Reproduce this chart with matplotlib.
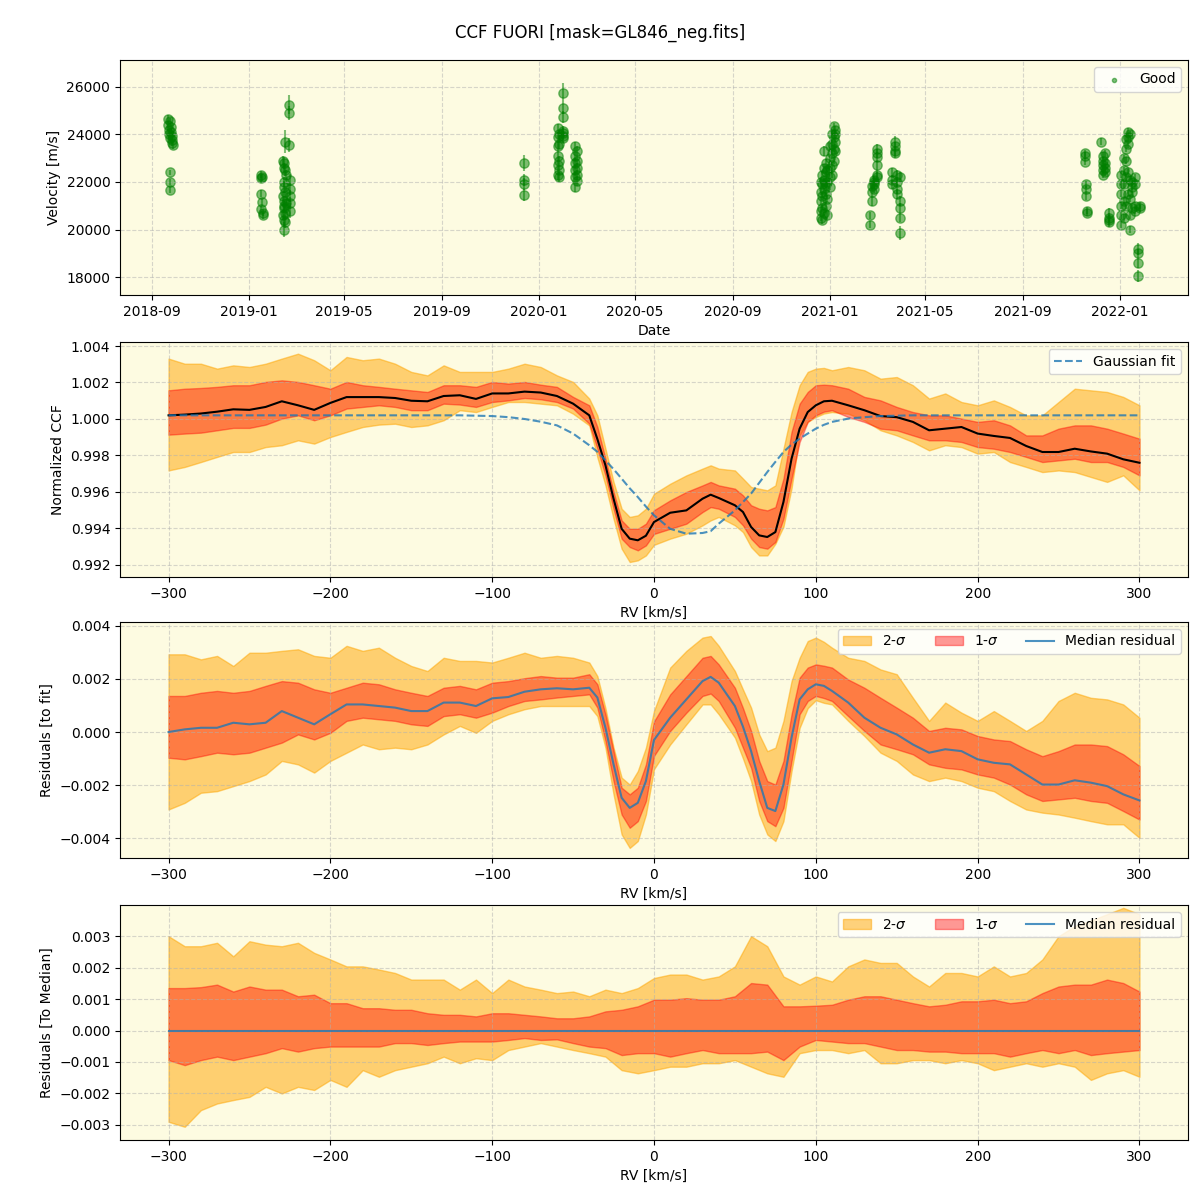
import numpy as np
import matplotlib
matplotlib.use('Agg')
import matplotlib.pyplot as plt
import matplotlib.dates as mdates

# ---------------- top panel: RV time series ----------------
obs_dates = (
    # Sep 2018
    ['2018-09-22'] * 2 + ['2018-09-23'] * 2 + ['2018-09-24'] * 2 + ['2018-09-25'] * 2 + ['2018-09-26'] * 2
    + ['2018-09-27', '2018-09-28'] + ['2018-09-24'] * 3
    # Jan 2019
    + ['2019-01-16'] * 2 + ['2019-01-17'] * 2 + ['2019-01-18'] * 2 + ['2019-01-19'] * 2
    # Feb 2019
    + ['2019-02-13'] * 3 + ['2019-02-14'] * 4 + ['2019-02-15'] * 5 + ['2019-02-16'] * 5 + ['2019-02-17'] * 2
    + ['2019-02-21'] * 3 + ['2019-02-22'] * 5
    # Dec 2019
    + ['2019-12-13'] * 4
    # Jan/Feb 2020
    + ['2020-01-25'] * 6 + ['2020-01-27'] * 5 + ['2020-01-31'] * 5 + ['2020-02-01'] * 2
    + ['2020-02-16'] * 6 + ['2020-02-18'] * 5
    # Dec 2020 / Jan 2021
    + ['2020-12-21'] * 5 + ['2020-12-23'] * 5 + ['2020-12-25'] * 5 + ['2020-12-27'] * 5 + ['2020-12-29'] * 4
    + ['2021-01-02'] * 5 + ['2021-01-04'] * 5 + ['2021-01-06'] * 4 + ['2021-01-08'] * 4
    # Feb/Mar 2021
    + ['2021-02-21'] * 2 + ['2021-02-23'] * 3 + ['2021-02-26'] * 4 + ['2021-03-01'] * 6
    + ['2021-03-20'] * 3 + ['2021-03-24'] * 4 + ['2021-03-27'] * 4 + ['2021-03-31'] * 5
    # Nov/Dec 2021
    + ['2021-11-19'] * 3 + ['2021-11-20'] * 3 + ['2021-11-21'] * 2
    + ['2021-12-09'] + ['2021-12-11'] * 5 + ['2021-12-13'] * 4 + ['2021-12-18'] * 4
    # Jan 2022
    + ['2022-01-03'] * 6 + ['2022-01-06'] * 5 + ['2022-01-09'] * 5 + ['2022-01-11'] * 5 + ['2022-01-14'] * 5
    + ['2022-01-17'] * 4 + ['2022-01-20'] * 4 + ['2022-01-24'] * 4 + ['2022-01-26'] * 2
)
obs_vel = [
    24650, 24400, 24200, 24000, 24550, 23850, 24300, 24100, 23950, 23750, 23650, 23550, 22400, 22000, 21650,
    22300, 22150, 21500, 20850, 22200, 21150, 20700, 20600,
    22900, 21400, 20600, 22800, 22000, 21000, 20400, 22600, 21800, 21200, 20900, 20000,
    23700, 22500, 21600, 20700, 20300, 22300, 21100, 25250, 24900, 23550, 22100, 21700, 21400, 21100, 20800,
    22800, 22100, 21900, 21450,
    24250, 23900, 23500, 23100, 22700, 22300, 24000, 23600, 22900, 22500, 22200,
    25750, 25100, 24750, 24150, 23950, 24050, 23850,
    23500, 23100, 22800, 22500, 22200, 21800, 23300, 22900, 22600, 22300, 22050,
    22000, 21600, 21200, 20800, 20500, 22300, 21900, 21400, 20900, 20400, 23300, 22600, 22100, 21700, 20700,
    22800, 22400, 21900, 21500, 21000, 22500, 22000, 21300, 20600,
    23500, 23000, 22600, 22200, 21800, 24000, 23600, 23200, 22700, 22300, 24350, 23900, 23400, 22900,
    24200, 24000, 23700, 23300,
    20600, 20200, 21850, 21600, 21200, 22100, 21900, 22000, 21700, 23400, 23200, 23050, 22700, 22300, 22200,
    22400, 22100, 21900, 23700, 23500, 23300, 23200, 22300, 22000, 21700, 21500, 22200, 21200, 20900, 20500, 19850,
    23200, 23100, 22850, 21900, 21700, 21400, 20800, 20700,
    23700, 23100, 22900, 22700, 22500, 22300, 23200, 22800, 22600, 22400, 20700, 20500, 20400, 20300,
    22300, 21900, 21500, 21000, 20600, 20200, 23000, 22500, 21900, 21200, 20500,
    23800, 23400, 22900, 22200, 21000, 24100, 23900, 23600, 22400, 21500,
    24000, 22100, 21300, 20600, 20000, 22000, 21800, 21600, 20900, 22200, 21900, 21000, 20800,
    19200, 19000, 18600, 18050, 21000, 20900,
]
obs_err = [
    150, 150, 150, 150, 150, 150, 150, 150, 150, 150, 150, 150, 120, 120, 120,
    150, 150, 150, 150, 150, 150, 150, 150,
    200, 200, 200, 250, 200, 200, 250, 200, 250, 200, 200, 300,
    500, 250, 250, 300, 250, 200, 200, 400, 300, 300, 250, 250, 250, 250, 300,
    350, 250, 250, 250,
    200, 200, 200, 200, 200, 200, 200, 200, 200, 200, 200,
    400, 250, 250, 200, 200, 200, 200,
    200, 200, 200, 200, 200, 200, 200, 200, 200, 200, 200,
    150, 150, 150, 150, 150, 150, 150, 150, 150, 150, 200, 150, 150, 150, 150,
    150, 150, 150, 150, 150, 150, 150, 150, 150,
    150, 150, 150, 150, 150, 150, 150, 150, 150, 150, 150, 150, 150, 150,
    150, 150, 150, 150,
    150, 150, 200, 200, 200, 150, 150, 150, 150, 200, 200, 200, 200, 200, 200,
    200, 200, 200, 250, 200, 200, 200, 200, 200, 200, 200, 200, 200, 200, 200, 300,
    150, 150, 150, 150, 150, 150, 150, 150,
    150, 150, 150, 150, 150, 150, 150, 150, 150, 150, 200, 200, 200, 200,
    150, 150, 150, 150, 150, 150, 150, 150, 150, 150, 150,
    150, 150, 150, 150, 150, 150, 150, 150, 150, 150,
    150, 150, 150, 150, 150, 150, 150, 150, 150, 150, 150, 150, 150,
    250, 200, 200, 250, 150, 150,
]

# ---------------- CCF panels: values read every 10 km/s (5 km/s in the lines) ----------------
rv = [-300, -290, -280, -270, -260, -250, -240, -230, -220, -210, -200, -190, -180, -170, -160, -150,
      -140, -130, -120, -110, -100, -90, -80, -70, -60, -50, -40, -35, -30, -25, -20, -15, -10, -5, 0,
      10, 20, 30, 35, 40, 50, 55, 60, 65, 70, 75, 80, 85, 90, 95, 100, 105, 110,
      120, 130, 140, 150, 160, 170, 180, 190, 200, 210, 220, 230, 240, 250, 260, 270, 280, 290, 300]

ccf_median = [1.0002, 1.00024, 1.0003, 1.0004, 1.00053, 1.0005, 1.00066, 1.00097, 1.00075, 1.0005, 1.00088,
              1.0012, 1.0012, 1.0012, 1.00115, 1.001, 1.00097, 1.00126, 1.0013, 1.0011, 1.0014, 1.0014, 1.0015,
              1.00145, 1.00126, 1.00084, 1.0002, 0.9989, 0.99746, 0.99563, 0.99398, 0.99344, 0.99335, 0.9936,
              0.99435, 0.99486, 0.99499, 0.99563, 0.99585, 0.99567, 0.99527, 0.9949, 0.99408, 0.99362, 0.99353,
              0.9938, 0.99545, 0.99782, 0.99947, 1.00038, 1.00075, 1.00097, 1.001, 1.00075, 1.00048, 1.00016,
              1.0001, 0.99984, 0.99938, 0.99947, 0.99956, 0.9992, 0.99907, 0.99896, 0.99852, 0.99819, 0.99819,
              0.99837, 0.99822, 0.9981, 0.99779, 0.9976]
ccf_2s_hi = [1.00331, 1.00303, 1.00303, 1.00276, 1.00294, 1.00285, 1.00303, 1.00331, 1.00358, 1.00322, 1.00267,
             1.0034, 1.00322, 1.00331, 1.00303, 1.00258, 1.00239, 1.00294, 1.00258, 1.00258, 1.00258, 1.00276,
             1.00303, 1.00285, 1.00239, 1.00203, 1.00112, 1.0002, 0.99837, 0.99655, 0.99508, 0.99463, 0.99472,
             0.99508, 0.9959, 0.99645, 0.99691, 0.99728, 0.99746, 0.99728, 0.99718, 0.99673, 0.99627, 0.99618,
             0.99609, 0.99636, 0.99837, 1.00038, 1.00185, 1.00258, 1.00276, 1.0028, 1.00267, 1.00285, 1.00267,
             1.00221, 1.0023, 1.00185, 1.00112, 1.0014, 1.00093, 1.00075, 1.00102, 1.00066, 1.0002, 1.0002,
             1.00093, 1.00166, 1.00157, 1.00148, 1.00121, 1.00075]
ccf_2s_lo = [0.99718, 0.99737, 0.99764, 0.99792, 0.99819, 0.99819, 0.99846, 0.99856, 0.99883, 0.99865, 0.99901,
             0.99929, 0.99956, 0.99969, 0.99974, 0.99956, 0.99965, 0.99993, 1.00048, 1.00038, 1.00066, 1.00093,
             1.00093, 1.00084, 1.00075, 1.00029, 0.99965, 0.9979, 0.99636, 0.99453, 0.99289, 0.99216, 0.99225,
             0.99252, 0.9931, 0.99344, 0.99371, 0.99417, 0.99444, 0.99463, 0.99417, 0.9938, 0.99298, 0.99252,
             0.99252, 0.99316, 0.9941, 0.9962, 0.9991, 0.99984, 1.00011, 1.0003, 1.00038, 1.00029, 0.99993,
             0.99938, 0.9991, 0.99874, 0.99828, 0.99856, 0.99846, 0.9981, 0.99819, 0.99764, 0.99737, 0.99709,
             0.99718, 0.99709, 0.99682, 0.99655, 0.99691, 0.99609]
ccf_1s_hi = [1.00157, 1.00166, 1.0017, 1.00176, 1.00185, 1.00185, 1.00203, 1.00212, 1.00203, 1.00185, 1.00166,
             1.00203, 1.00185, 1.00176, 1.00166, 1.00157, 1.00148, 1.00185, 1.00185, 1.00176, 1.00203, 1.00194,
             1.00203, 1.00188, 1.00176, 1.00121, 1.00075, 0.99956, 0.99782, 0.996, 0.99444, 0.99398, 0.99398,
             0.99426, 0.995, 0.99554, 0.996, 0.99636, 0.99655, 0.99636, 0.99618, 0.99581, 0.99527, 0.99508,
             0.99499, 0.99517, 0.99673, 0.99929, 1.00084, 1.00148, 1.00185, 1.00188, 1.00185, 1.00166, 1.00121,
             1.00102, 1.00066, 1.00038, 1.0002, 1.0002, 1.00002, 0.99984, 0.99993, 0.99965, 0.9991, 0.9991,
             0.99947, 0.99965, 0.99965, 0.99947, 0.9992, 0.99892]
ccf_1s_lo = [0.99914, 0.9992, 0.99925, 0.99938, 0.99951, 0.99951, 0.99969, 1.00002, 1.0002, 0.99993, 1.0002,
             1.00057, 1.00066, 1.00075, 1.00066, 1.00048, 1.00048, 1.00084, 1.00079, 1.00066, 1.00093, 1.00102,
             1.00115, 1.00108, 1.00093, 1.00057, 0.99974, 0.99837, 0.99691, 0.99508, 0.99344, 0.99298, 0.9928,
             0.99307, 0.9937, 0.99398, 0.99426, 0.9949, 0.99517, 0.99508, 0.99463, 0.99417, 0.99344, 0.99298,
             0.99289, 0.99326, 0.99453, 0.99673, 0.99874, 0.99984, 1.0002, 1.0004, 1.00048, 1.00011, 0.99984,
             0.99947, 0.99938, 0.9991, 0.99883, 0.99883, 0.99874, 0.99846, 0.99837, 0.99819, 0.99792, 0.99764,
             0.99773, 0.99782, 0.99764, 0.99764, 0.99737, 0.99691]
gauss_fit = [1.0002] * 19 + [1.00018, 1.00016, 1.0001, 1.0, 0.99985, 0.99965, 0.9992, 0.99856, 0.9982, 0.99773,
             0.99725, 0.99673, 0.9962, 0.99572, 0.9952, 0.99472, 0.99398, 0.99371, 0.99375, 0.99385, 0.99426,
             0.99499, 0.99545, 0.99591, 0.9965, 0.99709, 0.99765, 0.99819, 0.9986, 0.99892, 0.9992, 0.99947,
             0.99968, 0.99984, 1.00002, 1.0001, 1.00016, 1.00018] + [1.0002] * 15

res_median = [0.0, 0.0001, 0.00016, 0.00016, 0.00035, 0.00029, 0.00035, 0.00079, 0.00054, 0.00029, 0.00067,
              0.00104, 0.00104, 0.00098, 0.00092, 0.00079, 0.00079, 0.00111, 0.00111, 0.00098, 0.00127, 0.00132,
              0.00152, 0.00161, 0.00165, 0.00161, 0.00167, 0.0013, 0.00016, -0.00122, -0.00248, -0.00286,
              -0.00267, -0.00185, -0.0003, 0.00054, 0.00123, 0.00192, 0.00208, 0.00186, 0.00098, 0.0002,
              -0.00072, -0.00185, -0.00286, -0.00298, -0.00198, -0.00021, 0.00123, 0.00161, 0.0018, 0.00174,
              0.00155, 0.00111, 0.00054, 0.00016, -0.00009, -0.00047, -0.00078, -0.00065, -0.00072, -0.00103,
              -0.00116, -0.00122, -0.0016, -0.00198, -0.00198, -0.00182, -0.00191, -0.00204, -0.00235, -0.00258]
res_2s_hi = [0.00293, 0.00293, 0.00274, 0.00287, 0.00249, 0.00299, 0.00299, 0.00306, 0.00312, 0.00287, 0.0028,
             0.00325, 0.00306, 0.00318, 0.0028, 0.00249, 0.0023, 0.0028, 0.00268, 0.00268, 0.00262, 0.0028,
             0.00299, 0.0028, 0.00287, 0.0028, 0.00262, 0.00211, 0.0009, -0.00059, -0.00172, -0.00198, -0.00147,
             -0.00059, 0.0008, 0.00243, 0.00306, 0.00356, 0.00362, 0.00325, 0.0023, 0.0016, 0.00092, -0.00009,
             -0.00072, -0.00059, 0.00042, 0.00192, 0.0028, 0.00343, 0.00356, 0.0034, 0.00318, 0.0028, 0.00268,
             0.00236, 0.00218, 0.00129, 0.00042, 0.00111, 0.00073, 0.00042, 0.00079, 0.00042, 0.00004, 0.00042,
             0.00117, 0.00148, 0.00129, 0.00123, 0.00104, 0.00054]
res_2s_lo = [-0.00292, -0.00267, -0.00229, -0.00223, -0.00204, -0.00185, -0.0016, -0.00109, -0.00122, -0.00153,
             -0.00109, -0.00078, -0.00047, -0.00065, -0.00059, -0.00065, -0.00047, -0.00009, 0.00023, -0.00003,
             0.00042, 0.00067, 0.00086, 0.00098, 0.00098, 0.00098, 0.00098, 0.0006, -0.00059, -0.00235, -0.00386,
             -0.00437, -0.00411, -0.00311, -0.0014, -0.00047, 0.00029, 0.00104, 0.00104, 0.00067, -0.00021,
             -0.001, -0.00185, -0.00311, -0.00386, -0.00411, -0.00336, -0.00147, 0.00016, 0.0009, 0.0012, 0.0011,
             0.00104, 0.00042, -0.00015, -0.00078, -0.00109, -0.0016, -0.00185, -0.00172, -0.00185, -0.0021,
             -0.00223, -0.0026, -0.00292, -0.00304, -0.00311, -0.00323, -0.00336, -0.00348, -0.00348, -0.00399]
res_1s_hi = [0.00136, 0.00136, 0.00148, 0.00155, 0.00148, 0.00155, 0.00174, 0.00192, 0.00186, 0.00161, 0.00148,
             0.00167, 0.00186, 0.0018, 0.00161, 0.00148, 0.00136, 0.00167, 0.00174, 0.00161, 0.00186, 0.00192,
             0.00203, 0.00211, 0.00205, 0.00205, 0.00218, 0.0018, 0.00067, -0.00072, -0.0021, -0.00235, -0.0021,
             -0.00122, 0.0004, 0.00142, 0.00211, 0.0028, 0.00287, 0.00255, 0.00167, 0.0009, 0.00004, -0.00109,
             -0.00185, -0.00198, -0.00109, 0.00067, 0.00205, 0.00243, 0.00255, 0.0025, 0.00243, 0.00198, 0.00167,
             0.00129, 0.00092, 0.00054, 0.00004, 0.00016, 0.0001, -0.00015, -0.00028, -0.00034, -0.00065, -0.00091,
             -0.00072, -0.00047, -0.00047, -0.00053, -0.00084, -0.00128]
res_1s_lo = [-0.00097, -0.00103, -0.00091, -0.00078, -0.00084, -0.00078, -0.00059, -0.0004, -0.00009, -0.00028,
             -0.00003, 0.00042, 0.00054, 0.00048, 0.00042, 0.00029, 0.00023, 0.0006, 0.00067, 0.00054, 0.00073,
             0.00098, 0.00117, 0.00123, 0.0013, 0.00136, 0.00142, 0.00092, -0.00034, -0.00185, -0.00311, -0.00361,
             -0.00336, -0.0026, -0.0009, 0.00004, 0.00073, 0.00136, 0.00145, 0.00117, 0.00016, -0.0006, -0.00135,
             -0.0026, -0.00336, -0.00355, -0.00286, -0.00109, 0.00067, 0.00117, 0.00136, 0.00128, 0.00117, 0.0006,
             0.00004, -0.00047, -0.00065, -0.00084, -0.00122, -0.00135, -0.00141, -0.0016, -0.00172, -0.00198,
             -0.00235, -0.0026, -0.00254, -0.00248, -0.0026, -0.00267, -0.00298, -0.0033]

# bottom panel, 10 km/s steps
rv_med = [-300, -290, -280, -270, -260, -250, -240, -230, -220, -210, -200, -190, -180, -170, -160, -150, -140,
          -130, -120, -110, -100, -90, -80, -70, -60, -50, -40, -30, -20, -10, 0, 10, 20, 30, 40, 50, 60, 70,
          80, 90, 100, 110, 120, 130, 140, 150, 160, 170, 180, 190, 200, 210, 220, 230, 240, 250, 260, 270,
          280, 290, 300]
med_zero = [0.0] * 61
med_2s_hi = [0.003, 0.00268, 0.00268, 0.00279, 0.00236, 0.00284, 0.00273, 0.00268, 0.00279, 0.00247, 0.00226,
             0.00204, 0.00204, 0.00194, 0.00183, 0.00162, 0.00162, 0.00162, 0.0013, 0.00162, 0.00119, 0.00162,
             0.0014, 0.0013, 0.00119, 0.00124, 0.00109, 0.0013, 0.00119, 0.00135, 0.00167, 0.00178, 0.00178,
             0.00162, 0.00172, 0.00204, 0.003, 0.00268, 0.00172, 0.00146, 0.00172, 0.00156, 0.00204, 0.00226,
             0.00215, 0.00215, 0.00172, 0.0014, 0.00183, 0.00183, 0.00172, 0.00204, 0.00172, 0.00183, 0.00226,
             0.003, 0.00332, 0.0035, 0.0037, 0.0039, 0.0037]
med_2s_lo = [-0.0029, -0.00306, -0.00253, -0.00232, -0.00221, -0.00211, -0.00179, -0.002, -0.00179, -0.00189,
             -0.00157, -0.00179, -0.00126, -0.00147, -0.00126, -0.00115, -0.00104, -0.00083, -0.00104, -0.00088,
             -0.00094, -0.00062, -0.00051, -0.0004, -0.00051, -0.00062, -0.00072, -0.00083, -0.00126, -0.00136,
             -0.00126, -0.00115, -0.00115, -0.00104, -0.00104, -0.00094, -0.00115, -0.00136, -0.00147, -0.00072,
             -0.00062, -0.00062, -0.00072, -0.00062, -0.00104, -0.00104, -0.00094, -0.00094, -0.00104, -0.00094,
             -0.00104, -0.00126, -0.00115, -0.00104, -0.00115, -0.00104, -0.00115, -0.00157, -0.00136, -0.00126,
             -0.00147]
med_1s_hi = [0.00135, 0.00135, 0.00138, 0.00146, 0.00124, 0.0014, 0.0013, 0.0013, 0.00109, 0.00114, 0.00087,
             0.00087, 0.00071, 0.00071, 0.00066, 0.00066, 0.00055, 0.0005, 0.0005, 0.00045, 0.00055, 0.00055,
             0.0005, 0.00045, 0.00039, 0.00039, 0.00045, 0.00061, 0.00066, 0.00077, 0.00098, 0.00098, 0.00103,
             0.00098, 0.00098, 0.00109, 0.00151, 0.00146, 0.00077, 0.00077, 0.00079, 0.00082, 0.00098, 0.00109,
             0.00109, 0.00098, 0.00087, 0.00077, 0.00082, 0.00093, 0.00093, 0.00098, 0.00087, 0.00093, 0.00119,
             0.0014, 0.00146, 0.00146, 0.00162, 0.00151, 0.00124]
med_1s_lo = [-0.00094, -0.0011, -0.00094, -0.00083, -0.00094, -0.00083, -0.00072, -0.00056, -0.00067, -0.00056,
             -0.00051, -0.00051, -0.00051, -0.00051, -0.0004, -0.0004, -0.00046, -0.0004, -0.00035, -0.00035,
             -0.00035, -0.0003, -0.00024, -0.0003, -0.00028, -0.0004, -0.00051, -0.00056, -0.00078, -0.00072,
             -0.00072, -0.00083, -0.00072, -0.00062, -0.00072, -0.00072, -0.00072, -0.00067, -0.00094, -0.00051,
             -0.0003, -0.00035, -0.0004, -0.0004, -0.00051, -0.00062, -0.00062, -0.00067, -0.00067, -0.00072,
             -0.00072, -0.00072, -0.00083, -0.00072, -0.00062, -0.00072, -0.00062, -0.00078, -0.00072, -0.00067,
             -0.00062]

bg = '#fdfbe1'

fig = plt.figure(figsize=(12, 12), dpi=100)
fig.suptitle('CCF FUORI [mask=GL846_neg.fits]', y=0.98, fontsize=12)

ax1 = fig.add_axes([0.1, 0.7542, 0.89, 0.1958], facecolor=bg)
ax2 = fig.add_axes([0.1, 0.5192, 0.89, 0.1958], facecolor=bg)
ax3 = fig.add_axes([0.1, 0.2850, 0.89, 0.1967], facecolor=bg)
ax4 = fig.add_axes([0.1, 0.0500, 0.89, 0.1958], facecolor=bg)

# top panel
dates = np.array(obs_dates, dtype='datetime64[D]')
ax1.errorbar(dates, obs_vel, yerr=obs_err, fmt='none', ecolor='green', alpha=0.5, elinewidth=1.5)
ax1.scatter(dates, obs_vel, s=45, color='green', alpha=0.5, label='Good')
ax1.set_xlim(np.datetime64('2018-07-23'), np.datetime64('2022-03-28'))
ax1.set_ylim(17250, 27130)
ax1.xaxis.set_major_locator(mdates.MonthLocator(bymonth=[1, 5, 9]))
ax1.xaxis.set_major_formatter(mdates.DateFormatter('%Y-%m'))
ax1.set_xlabel('Date')
ax1.set_ylabel('Velocity [m/s]')
ax1.legend(loc='upper right', markerscale=0.45)

# normalized CCF
ax2.fill_between(rv, ccf_2s_lo, ccf_2s_hi, color='orange', alpha=0.5)
ax2.fill_between(rv, ccf_1s_lo, ccf_1s_hi, color='red', alpha=0.4)
ax2.plot(rv, ccf_median, color='black', lw=1.5)
ax2.plot(rv, gauss_fit, color='C0', ls='--', alpha=0.8, lw=1.5, label='Gaussian fit')
ax2.set_xlim(-330, 330)
ax2.set_ylim(0.99134, 1.00422)
ax2.set_xlabel('RV [km/s]')
ax2.set_ylabel('Normalized CCF')
ax2.legend(loc='upper right')

# residuals to fit
ax3.fill_between(rv, res_2s_lo, res_2s_hi, color='orange', alpha=0.5, label='2-$\\sigma$')
ax3.fill_between(rv, res_1s_lo, res_1s_hi, color='red', alpha=0.4, label='1-$\\sigma$')
ax3.plot(rv, res_median, color='C0', alpha=0.8, lw=1.5, label='Median residual')
ax3.set_xlim(-330, 330)
ax3.set_ylim(-0.00475, 0.00415)
ax3.set_xlabel('RV [km/s]')
ax3.set_ylabel('Residuals [to fit]')
ax3.legend(loc='upper right', ncol=3)

# residuals to median
ax4.fill_between(rv_med, med_2s_lo, med_2s_hi, color='orange', alpha=0.5, label='2-$\\sigma$')
ax4.fill_between(rv_med, med_1s_lo, med_1s_hi, color='red', alpha=0.4, label='1-$\\sigma$')
ax4.plot(rv_med, med_zero, color='C0', alpha=0.8, lw=1.5, label='Median residual')
ax4.set_xlim(-330, 330)
ax4.set_ylim(-0.00348, 0.00399)
ax4.set_xlabel('RV [km/s]')
ax4.set_ylabel('Residuals [To Median]')
ax4.legend(loc='upper right', ncol=3)

for ax in (ax1, ax2, ax3, ax4):
    ax.grid(True, ls='--', alpha=0.5)

fig.savefig('out.png', dpi=100)
